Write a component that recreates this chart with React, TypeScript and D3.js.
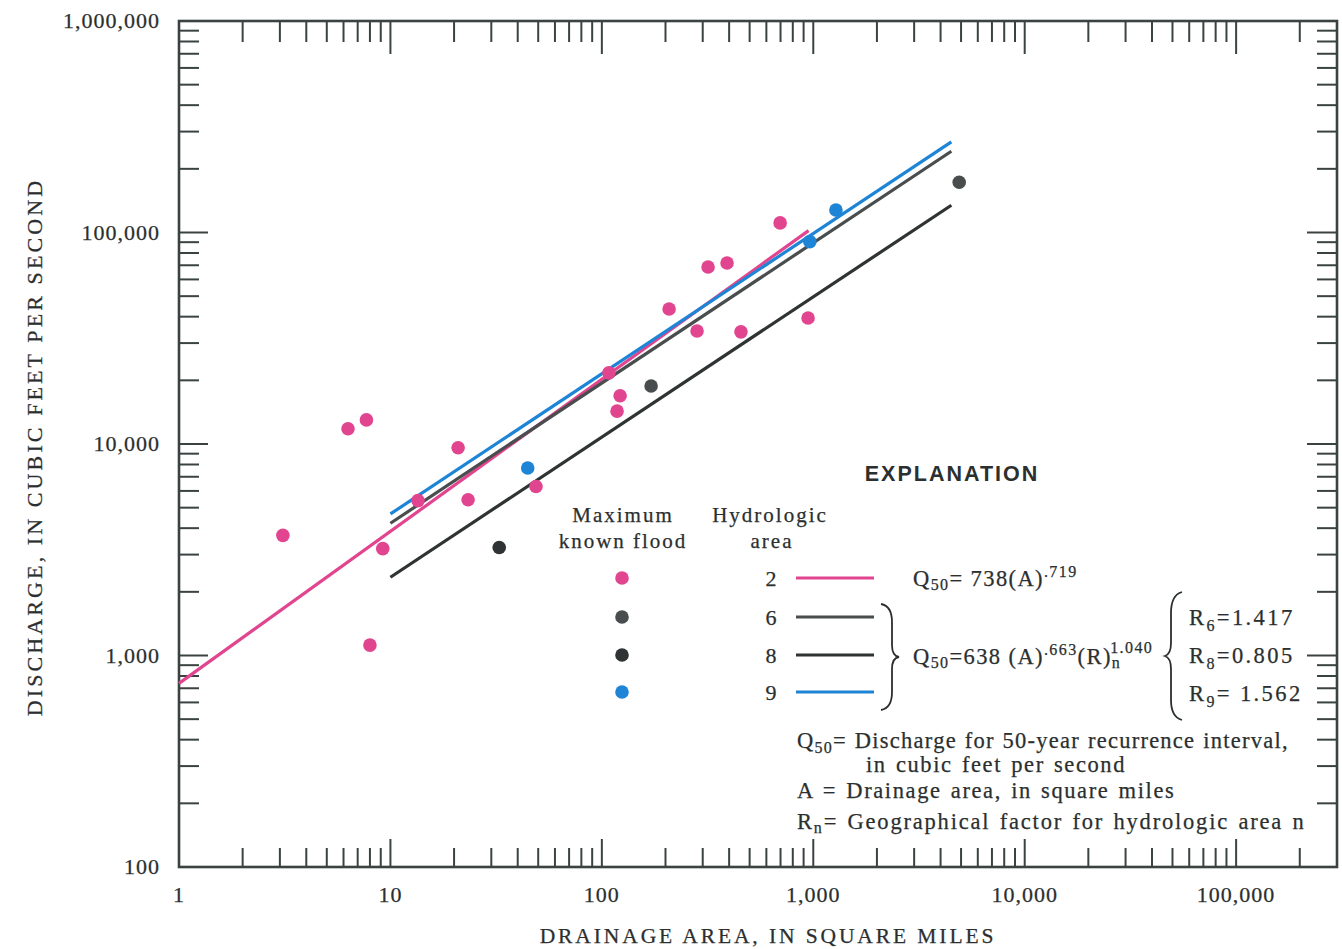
import React from 'react';
import * as d3 from 'd3';

const W = 1342;
const H = 949;

// Log-log frame: drainage area (sq mi) against discharge (cfs)
const X_DOMAIN: [number, number] = [1, 300000];
const Y_DOMAIN: [number, number] = [100, 1000000];
const X_LABELS = [1, 10, 100, 1000, 10000, 100000];
const Y_LABELS = [100, 1000, 10000, 100000, 1000000];

// Maximum known floods by hydrologic area
const area2Drainage = [3.1, 6.3, 7.7, 8.0, 9.2, 13.5, 20.9, 23.3, 48.8, 108, 118, 122, 208, 282, 318, 391, 455, 697, 945];
const area2Peak = [3700, 11800, 13000, 1120, 3200, 5400, 9600, 5450, 6300, 21700, 14300, 16900, 43500, 34200, 68700, 71700, 33900, 111000, 39400];
const area6Drainage = [171, 4900];
const area6Peak = [18800, 172800];
const area8Drainage = [32.7];
const area8Peak = [3240];
const area9Drainage = [44.6, 963, 1280];
const area9Peak = [7700, 90500, 127800];

// Regression equations for the 50-year flood
const AREA2_COEF = 738;
const AREA2_EXP = 0.719;
const REGION_COEF = 638;
const REGION_EXP = 0.663;
const R_EXP = 1.04;
const R_FACTORS: Record<string, number> = { '6': 1.417, '8': 0.805, '9': 1.562 };
const AREA2_RANGE: [number, number] = [1, 950];
const REGION_RANGE: [number, number] = [10, 4500];

const PINK = '#e2458f';
const GRAY6 = '#494d4d';
const GRAY8 = '#2f3333';
const BLUE = '#1d84d6';
const INK = '#2b2f2f';
const AXIS = '#3a4242';

const SERIF = '"Liberation Serif", "Times New Roman", serif';

const x = d3.scaleLog().domain(X_DOMAIN).range([179, 1337]);
const y = d3.scaleLog().domain(Y_DOMAIN).range([867, 21]);

function minorTicks(lo: number, hi: number): { v: number; major: boolean }[] {
  const out: { v: number; major: boolean }[] = [];
  for (let d = lo; d < hi; d *= 10) {
    for (let k = 1; k <= 9; k++) {
      const v = k * d;
      if (v > lo && v < hi) out.push({ v, major: k === 1 });
    }
  }
  return out;
}

const xTicks = minorTicks(X_DOMAIN[0], X_DOMAIN[1]);
const yTicks = minorTicks(Y_DOMAIN[0], Y_DOMAIN[1]);

const fmt = d3.format(',');

const lineGen = d3
  .line<[number, number]>()
  .x((d) => x(d[0]))
  .y((d) => y(d[1]));

function area2Q(a: number) {
  return AREA2_COEF * Math.pow(a, AREA2_EXP);
}
function regionQ(a: number, r: number) {
  return REGION_COEF * Math.pow(a, REGION_EXP) * Math.pow(r, R_EXP);
}
function sample(range: [number, number], f: (a: number) => number): [number, number][] {
  return [range[0], range[1]].map((a) => [a, f(a)] as [number, number]);
}

const curves = [
  { key: '2', color: PINK, pts: sample(AREA2_RANGE, area2Q) },
  { key: '6', color: GRAY6, pts: sample(REGION_RANGE, (a) => regionQ(a, R_FACTORS['6'])) },
  { key: '8', color: GRAY8, pts: sample(REGION_RANGE, (a) => regionQ(a, R_FACTORS['8'])) },
  { key: '9', color: BLUE, pts: sample(REGION_RANGE, (a) => regionQ(a, R_FACTORS['9'])) },
];

const floods = [
  { color: PINK, xs: area2Drainage, ys: area2Peak },
  { color: GRAY6, xs: area6Drainage, ys: area6Peak },
  { color: GRAY8, xs: area8Drainage, ys: area8Peak },
  { color: BLUE, xs: area9Drainage, ys: area9Peak },
];

const legendRows = [
  { key: '2', color: PINK, y: 578 },
  { key: '6', color: GRAY6, y: 617 },
  { key: '8', color: GRAY8, y: 655 },
  { key: '9', color: BLUE, y: 692 },
];

export default function App() {
  const [x0, x1] = x.range();
  const [yb, yt] = y.range();
  const txt = { fontFamily: SERIF, fill: INK, stroke: INK, strokeWidth: 0.25 } as React.CSSProperties;
  return (
    <svg
      width={W}
      height={H}
      viewBox={`0 0 ${W} ${H}`}
      style={{ position: 'absolute', left: 0, top: 0, background: '#fff' }}
    >
      {/* frame */}
      <rect x={x0} y={yt} width={x1 - x0} height={yb - yt} fill="none" stroke={AXIS} strokeWidth={2.6} />

      {/* ticks on all four sides */}
      <g stroke={AXIS} strokeWidth={2}>
        {xTicks.map((t) => (
          <g key={'xt' + t.v}>
            <line x1={x(t.v)} x2={x(t.v)} y1={yb} y2={yb - (t.major ? 28 : 19)} />
            <line x1={x(t.v)} x2={x(t.v)} y1={yt} y2={yt + (t.major ? 33 : 21)} />
          </g>
        ))}
        {yTicks.map((t) => (
          <g key={'yt' + t.v}>
            <line x1={x0} x2={x0 + (t.major ? 29 : 20)} y1={y(t.v)} y2={y(t.v)} />
            <line x1={x1} x2={x1 - (t.major ? 30 : 20)} y1={y(t.v)} y2={y(t.v)} />
          </g>
        ))}
      </g>

      {/* tick labels */}
      <g style={{ ...txt, fontSize: 22, letterSpacing: 1 }}>
        {X_LABELS.map((v) => (
          <text key={'xl' + v} x={x(v)} y={yb + 35} textAnchor="middle">
            {fmt(v)}
          </text>
        ))}
        {Y_LABELS.map((v) => (
          <text key={'yl' + v} x={160} y={y(v) + 7} textAnchor="end">
            {fmt(v)}
          </text>
        ))}
      </g>

      {/* axis titles */}
      <text
        x={768}
        y={943}
        textAnchor="middle"
        style={{ ...txt, fontSize: 21.5, letterSpacing: 2.9 }}
      >
        DRAINAGE AREA, IN SQUARE MILES
      </text>
      <text
        transform="translate(42,447) rotate(-90)"
        textAnchor="middle"
        style={{ ...txt, fontSize: 22, letterSpacing: 3.1 }}
      >
        DISCHARGE, IN CUBIC FEET PER SECOND
      </text>

      {/* regression lines */}
      <g fill="none" strokeWidth={3.2} strokeLinecap="butt">
        {curves.map((c) => (
          <path key={'c' + c.key} d={lineGen(c.pts) || ''} stroke={c.color} />
        ))}
      </g>

      {/* maximum known floods */}
      <g>
        {floods.map((s, i) =>
          s.xs.map((a, j) => (
            <circle key={`p${i}-${j}`} cx={x(a)} cy={y(s.ys[j])} r={6.8} fill={s.color} />
          ))
        )}
      </g>

      {/* explanation */}
      <text x={952} y={481} textAnchor="middle" style={{ fontFamily: '"Liberation Sans", Arial, sans-serif', fontWeight: 700, fontSize: 21.5, fill: INK, letterSpacing: 2 }}>
        EXPLANATION
      </text>
      <g style={{ ...txt, fontSize: 21, letterSpacing: 2 }}>
        <text x={623} y={522} textAnchor="middle">Maximum</text>
        <text x={623} y={548} textAnchor="middle">known flood</text>
        <text x={770} y={522} textAnchor="middle">Hydrologic</text>
        <text x={772} y={548} textAnchor="middle">area</text>
      </g>
      {legendRows.map((r) => (
        <g key={'lg' + r.key}>
          <circle cx={622} cy={r.y} r={6.8} fill={r.color} />
          <text x={771} y={r.y + 8} textAnchor="middle" style={{ ...txt, fontSize: 22 }}>
            {r.key}
          </text>
          <line x1={796} x2={874} y1={r.y} y2={r.y} stroke={r.color} strokeWidth={3.2} />
        </g>
      ))}

      {/* braces */}
      <path
        d="M881,604 Q892,606 892,622 L892,645 Q892,656 899,657 Q892,658 892,669 L892,692 Q892,708 881,710"
        fill="none"
        stroke={INK}
        strokeWidth={1.8}
      />
      <path
        d="M1182,592 Q1171,595 1171,613 L1171,643 Q1171,654 1165,656 Q1171,658 1171,669 L1171,700 Q1171,717 1182,720"
        fill="none"
        stroke={INK}
        strokeWidth={1.8}
      />

      {/* equations */}
      <g style={{ ...txt, fontSize: 22.5, letterSpacing: 1.4 }}>
        <text x={913} y={586}>
          Q<tspan fontSize={16} dy={4}>50</tspan>
          <tspan dy={-4}>= 738(A)</tspan>
          <tspan fontSize={16} dy={-9}>.719</tspan>
        </text>
        <text x={913} y={664}>
          Q<tspan fontSize={16} dy={4}>50</tspan>
          <tspan dy={-4}>=638 (A)</tspan>
          <tspan fontSize={16} dy={-9}>.663</tspan>
          <tspan dy={9}>(R)</tspan>
          <tspan fontSize={16} dy={4}>n</tspan>
          <tspan fontSize={16} dx={-11} dy={-15}>1.040</tspan>
        </text>
      </g>
      <g style={{ ...txt, fontSize: 22.5, letterSpacing: 2.4 }}>
        <text x={1189} y={625}>
          R<tspan fontSize={16} dy={6}>6</tspan>
          <tspan dy={-6}>=1.417</tspan>
        </text>
        <text x={1189} y={663}>
          R<tspan fontSize={16} dy={6}>8</tspan>
          <tspan dy={-6}>=0.805</tspan>
        </text>
        <text x={1189} y={701}>
          R<tspan fontSize={16} dy={6}>9</tspan>
          <tspan dy={-6}>= 1.562</tspan>
        </text>
      </g>

      {/* definitions */}
      <g style={{ ...txt, fontSize: 22.5, letterSpacing: 1.6, wordSpacing: 2 }}>
        <text x={797} y={748} style={{ letterSpacing: 1.25, wordSpacing: 1 }}>
          Q<tspan fontSize={16} dy={5}>50</tspan>
          <tspan dy={-5}>= Discharge for 50-year recurrence interval,</tspan>
        </text>
        <text x={866} y={772}>in cubic feet per second</text>
        <text x={797} y={798}>A = Drainage area, in square miles</text>
        <text x={797} y={829} style={{ letterSpacing: 1.8 }}>
          R<tspan fontSize={16} dy={4}>n</tspan>
          <tspan dy={-4}>= Geographical factor for hydrologic area n</tspan>
        </text>
      </g>
    </svg>
  );
}
